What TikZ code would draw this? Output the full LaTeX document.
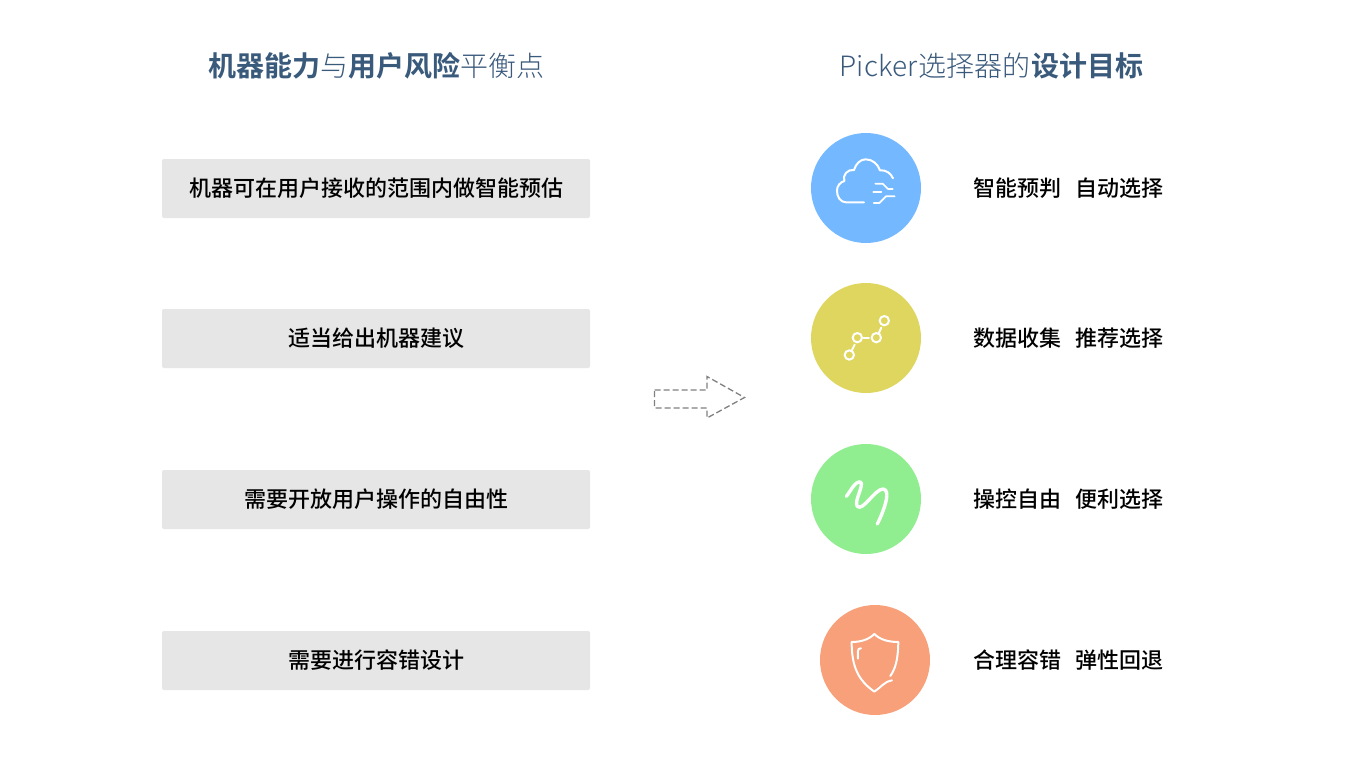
\documentclass[tikz,border=0pt]{standalone}
\usepackage{fontspec}
\setmainfont{Noto Sans CJK SC}
\newfontfamily\cjkmed{Noto Sans CJK SC Medium}
\newfontfamily\cjkbold{Noto Sans CJK SC Bold}
\newfontfamily\cjklight{Noto Sans CJK SC Light}
\definecolor{titlecol}{HTML}{3A5A7C}
\definecolor{boxgrey}{HTML}{E6E6E6}
\definecolor{cblue}{HTML}{74B9FF}
\definecolor{cyellow}{HTML}{DFD65F}
\definecolor{cgreen}{HTML}{90EE90}
\definecolor{corange}{HTML}{F7A07A}
\definecolor{arrowgrey}{HTML}{808080}
\tikzset{
  titletext/.style={inner sep=0pt,text=titlecol,font=\fontsize{28}{32}\selectfont},
  itembox/.style={fill=boxgrey,rounded corners=2pt,minimum width=428pt,minimum height=59pt,inner sep=0pt,text=black,font=\cjkmed\fontsize{22}{26}\selectfont},
  goaltext/.style={anchor=west,inner sep=0pt,text=black,font=\cjkmed\fontsize{22}{26}\selectfont},
  disc/.style={circle,minimum size=110pt,inner sep=0pt},
  iconline/.style={draw=white,line width=#1,line cap=round,line join=round},
  iconline/.default=2pt,
  zoomed/.style={x=0.33333pt,y=-0.33333pt},
}
\newcommand{\B}[1]{{\cjkbold #1}}
\begin{document}
\begin{tikzpicture}[x=1pt,y=-1pt]
\useasboundingbox (0,0) rectangle (1366,768);
\fill[white] (0,0) rectangle (1366,768);
% titles
\node[titletext] (t1) at (376,65.5) {\cjklight\B{机器能力}与\B{用户风险}平衡点};
\node[titletext] (t2) at (991.5,65.5) {\cjklight Picker\hspace{1pt}选择器的\hspace{1pt}\B{设计目标}};
% left boxes
\node[itembox] (b1) at (376,188.5) {机器可在用户接收的范围内做智能预估};
\node[itembox] (b2) at (376,338.5) {适当给出机器建议};
\node[itembox] (b3) at (376,499.5) {需要开放用户操作的自由性};
\node[itembox] (b4) at (376,660.5) {需要进行容错设计};
% arrow
\draw[arrowgrey,line width=1.3pt,dash pattern=on 6pt off 3pt]
  (654.5,390) -- (707,390) -- (707,376.5) -- (744.5,397.5) -- (707,418) -- (707,408) -- (654.5,408) -- cycle;
% discs
\node[disc,fill=cblue] (c1) at (866,188) {};
\node[disc,fill=cyellow] (c2) at (866,338) {};
\node[disc,fill=cgreen] (c3) at (866,499) {};
\node[disc,fill=corange] (c4) at (875,660) {};
% goals
\node[goaltext] (g1) at (973,188.5) {智能预判\hspace{14.5pt}自动选择};
\node[goaltext] (g2) at (973,338.5) {数据收集\hspace{14.5pt}推荐选择};
\node[goaltext] (g3) at (973,499.5) {操控自由\hspace{14.5pt}便利选择};
\node[goaltext] (g4) at (973,660.5) {合理容错\hspace{14.5pt}弹性回退};
% cloud icon
\begin{scope}[zoomed,shift={(2400,375)}]
  \draw[iconline] (192,232) -- (138,232)
    .. controls (120,232) and (111,214) .. (111,197)
    .. controls (111,183) and (120,172) .. (133,168)
    .. controls (127,150) and (143,132) .. (162,135)
    .. controls (168,115) and (182,103) .. (197,103)
    .. controls (218,103) and (234,118) .. (240,136)
    .. controls (258,134) and (273,145) .. (279,160);
  \draw[iconline=1.7pt] (226,176) -- (248,176) -- (264,192) -- (278,192);
  \draw[iconline=1.7pt] (220,201) -- (244,201);
  \draw[iconline=1.7pt] (221,234) -- (238,234) -- (258,214) -- (284,214);
\end{scope}
% chain icon
\begin{scope}[zoomed,shift={(2400,825)}]
  \draw[iconline] (148,240) circle[radius=14];
  \draw[iconline] (172,188) circle[radius=14];
  \draw[iconline] (229,188) circle[radius=14];
  \draw[iconline] (253,137) circle[radius=14];
  \draw[iconline] (155,227) -- (164,209);
  \draw[iconline] (191,188) -- (207,188);
  \draw[iconline] (236,175) -- (244,158);
\end{scope}
% squiggle icon
\begin{scope}[zoomed,shift={(2400,1311)}]
  \draw[iconline=3.4pt] (139,178)
    .. controls (150,165) and (165,132) .. (181,135)
    .. controls (195,140) and (160,195) .. (172,208)
    .. controls (188,225) and (225,155) .. (250,156)
    .. controls (275,160) and (250,225) .. (232,261);
\end{scope}
% shield icon
\begin{scope}[zoomed,shift={(2430,1791)}]
  \draw[iconline] (241,237)
    .. controls (256,215) and (264,190) .. (265,135)
    .. controls (235,135) and (210,128) .. (193,111)
    .. controls (176,128) and (152,135) .. (125,135)
    .. controls (125,210) and (145,250) .. (193,284)
    .. controls (212,272) and (225,252) .. (246,250);
  \draw[iconline] (144,185) -- (144,162) .. controls (144,156) and (147,154) .. (153,154);
\end{scope}
\end{tikzpicture}
\end{document}
